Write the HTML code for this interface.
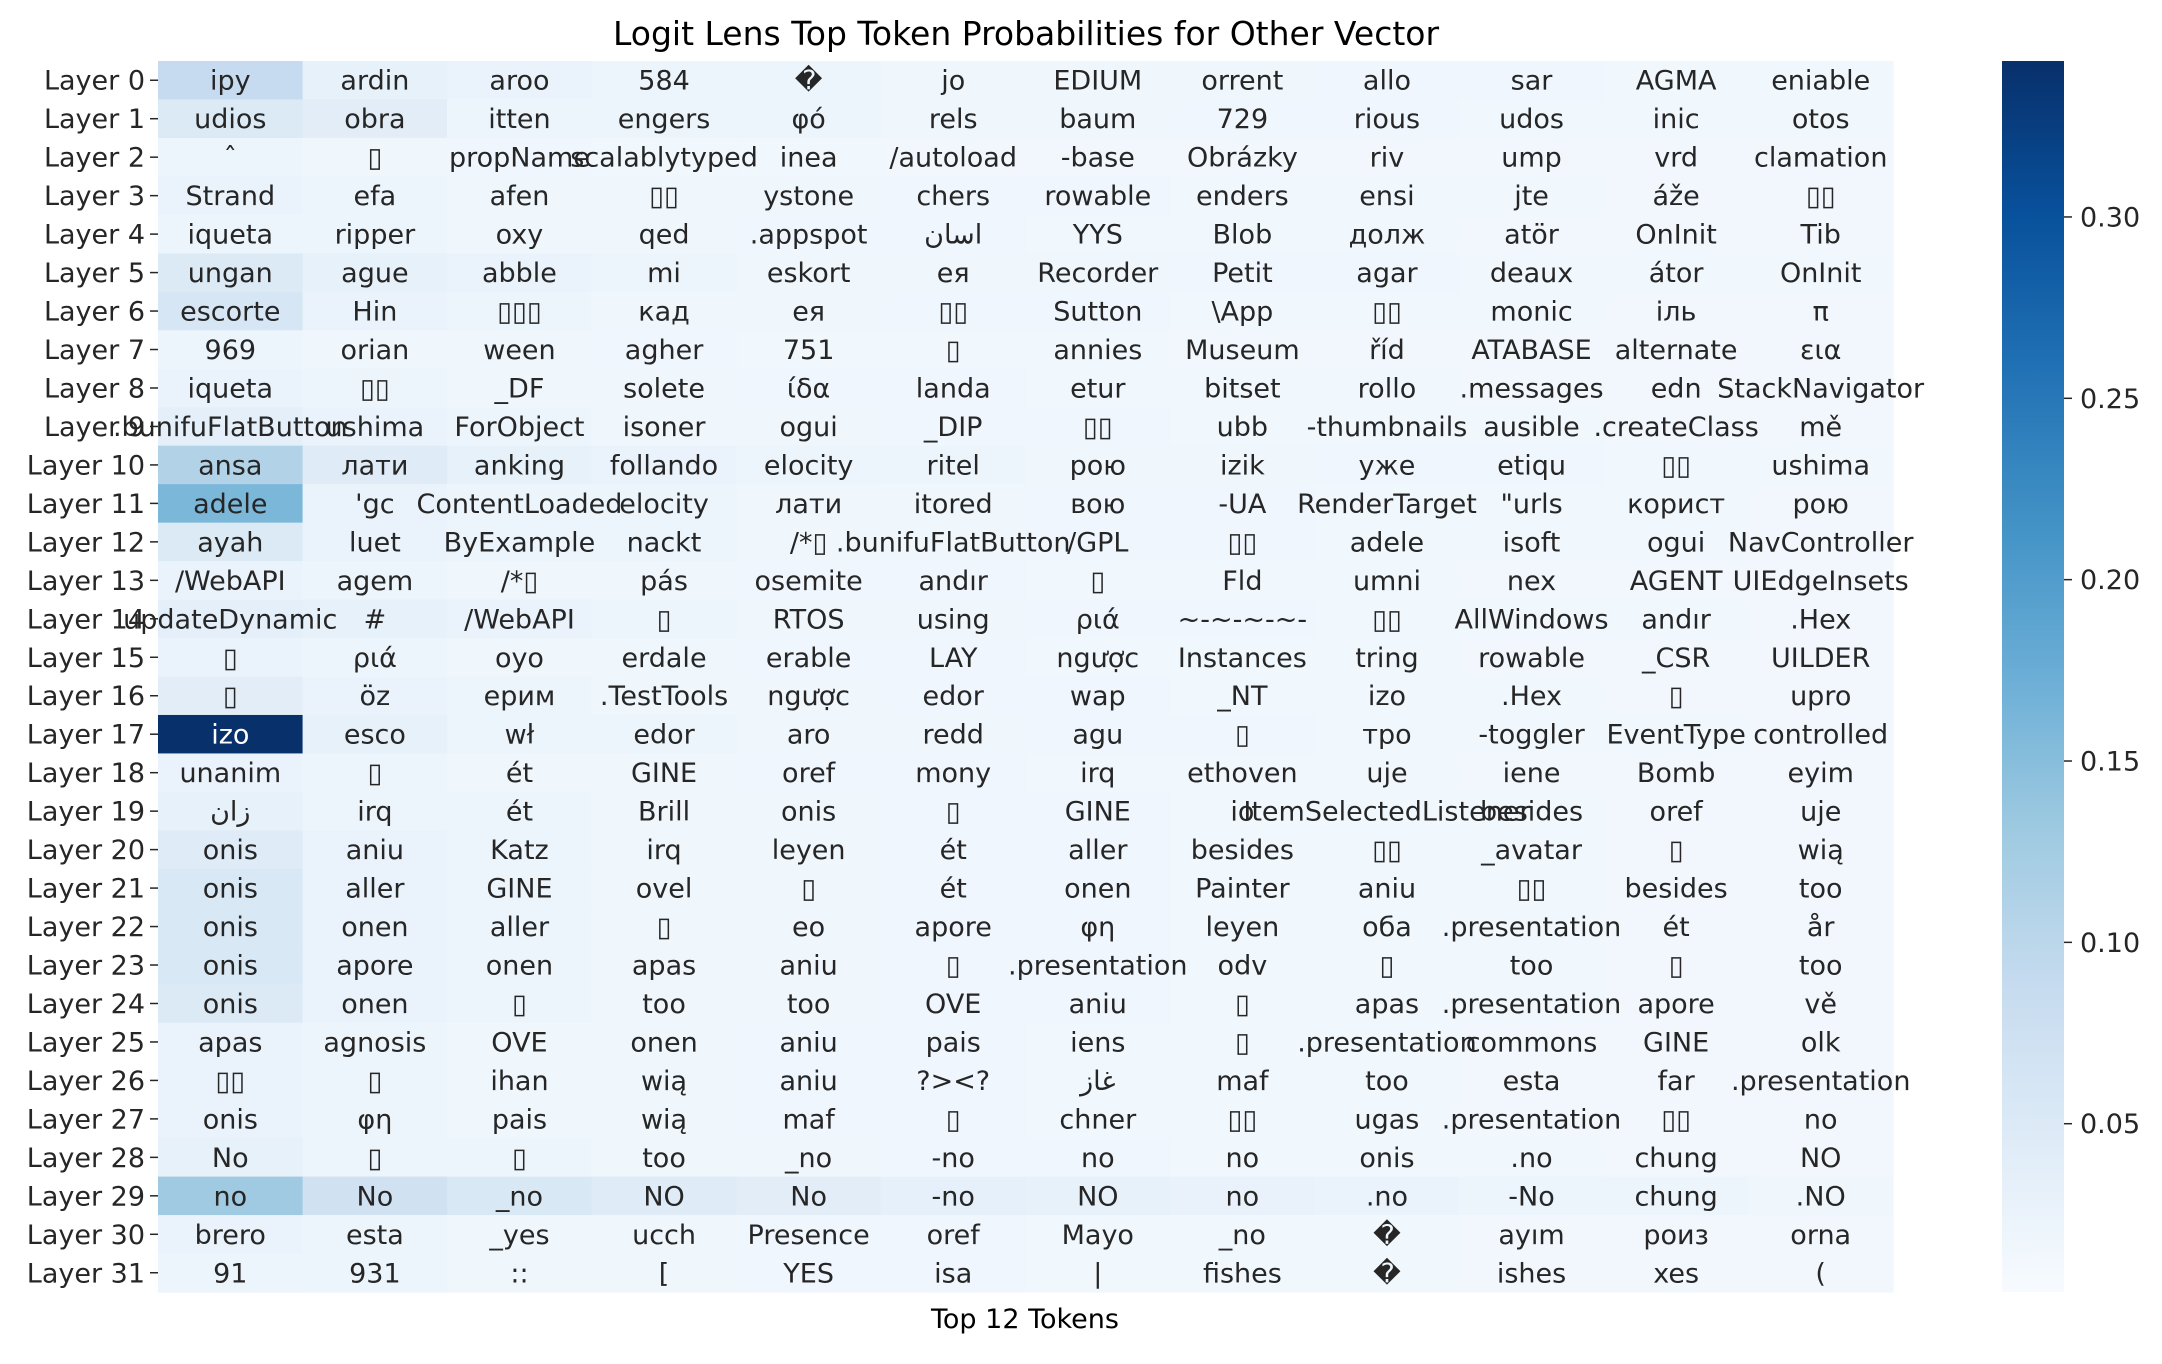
<!DOCTYPE html>
<html><head><meta charset="utf-8">
<style>
html,body{margin:0;padding:0;background:#fff;}
svg{display:block;font-family:"DejaVu Sans","Liberation Sans","Noto Sans CJK SC",sans-serif;}
</style></head>
<body>
<svg id="chart" width="2162" height="1364" viewBox="0 0 2162 1364" xmlns="http://www.w3.org/2000/svg">
<text x="1026" y="45" font-size="33" text-anchor="middle" fill="#000">Logit Lens Top Token Probabilities for Other Vector</text>
<text x="1025" y="1328" font-size="27" text-anchor="middle" fill="#000">Top 12 Tokens</text>
<g id="cells"></g>
<g id="labels"></g>
<g id="ylabels"></g>
<g id="cbar"></g>
</svg>
<script>
const layerLabels = Array.from({length:32},(_,i)=>'Layer '+i);
const tokens = [
["ipy","ardin","aroo","584","\uFFFD","jo","EDIUM","orrent","allo","sar","AGMA","eniable"],
["udios","obra","itten","engers","φό","rels","baum","729","rious","udos","inic","otos"],
["ˆ","▯","propName","scalablytyped","inea","/autoload","-base","Obrázky","riv","ump","vrd","clamation"],
["Strand","efa","afen","▯▯","ystone","chers","rowable","enders","ensi","jte","áže","▯▯"],
["iqueta","ripper","oxy","qed",".appspot","اسان","YYS","Blob","долж","atör","OnInit","Tib"],
["ungan","ague","abble","mi","eskort","ея","Recorder","Petit","agar","deaux","átor","OnInit"],
["escorte","Hin","▯▯▯","кад","ея","▯▯","Sutton","\\App","▯▯","monic","іль","π"],
["969","orian","ween","agher","751","▯","annies","Museum","říd","ATABASE","alternate","εια"],
["iqueta","▯▯","_DF","solete","ίδα","landa","etur","bitset","rollo",".messages","edn","StackNavigator"],
[".bunifuFlatButton","ushima","ForObject","isoner","ogui","_DIP","▯▯","ubb","-thumbnails","ausible",".createClass","mě"],
["ansa","лати","anking","follando","elocity","ritel","рою","izik","уже","etiqu","▯▯","ushima"],
["adele","'gc","ContentLoaded","elocity","лати","itored","вою","-UA","RenderTarget","\"urls","корист","рою"],
["ayah","luet","ByExample","nackt","/*▯",".bunifuFlatButton","/GPL","▯▯","adele","isoft","ogui","NavController"],
["/WebAPI","agem","/*▯","pás","osemite","andır","▯","Fld","umni","nex","AGENT","UIEdgeInsets"],
["updateDynamic","#","/WebAPI","▯","RTOS","using","ριά","~-~-~-~-","▯▯","AllWindows","andır",".Hex"],
["▯","ριά","oyo","erdale","erable","LAY","ngược","Instances","tring","rowable","_CSR","UILDER"],
["▯","öz","ерим",".TestTools","ngược","edor","wap","_NT","izo",".Hex","▯","upro"],
["izo","esco","wł","edor","aro","redd","agu","▯","тро","-toggler","EventType","controlled"],
["unanim","▯","ét","GINE","oref","mony","irq","ethoven","uje","iene","Bomb","eyim"],
["زان","irq","ét","Brill","onis","▯","GINE","io","ItemSelectedListener","besides","oref","uje"],
["onis","aniu","Katz","irq","leyen","ét","aller","besides","▯▯","_avatar","▯","wią"],
["onis","aller","GINE","ovel","▯","ét","onen","Painter","aniu","▯▯","besides","too"],
["onis","onen","aller","▯","eo","apore","φη","leyen","оба",".presentation","ét","år"],
["onis","apore","onen","apas","aniu","▯",".presentation","odv","▯","too","▯","too"],
["onis","onen","▯","too","too","OVE","aniu","▯","apas",".presentation","apore","vě"],
["apas","agnosis","OVE","onen","aniu","pais","iens","▯",".presentation","commons","GINE","olk"],
["▯▯","▯","ihan","wią","aniu","?><?","غاز","maf","too","esta","far",".presentation"],
["onis","φη","pais","wią","maf","▯","chner","▯▯","ugas",".presentation","▯▯","no"],
["No","▯","▯","too","_no","-no","no","no","onis",".no","chung","NO"],
["no","No","_no","NO","No","-no","NO","no",".no","-No","chung",".NO"],
["brero","esta","_yes","ucch","Presence","oref","Mayo","_no","\uFFFD","ayım","роиз","orna"],
["91","931","::","[","YES","isa","|","fishes","\uFFFD","ishes","xes","("]
];
const probs = [
[.088,.03,.025,.022,.02,.018,.018,.017,.016,.016,.015,.015],
[.05,.04,.02,.02,.02,.018,.017,.016,.016,.015,.015,.015],
[.02,.018,.016,.015,.015,.014,.014,.014,.013,.013,.013,.013],
[.025,.02,.018,.017,.017,.016,.016,.015,.015,.015,.014,.014],
[.02,.02,.018,.017,.016,.016,.015,.015,.015,.014,.014,.014],
[.05,.03,.025,.02,.018,.017,.017,.016,.016,.015,.015,.015],
[.06,.025,.02,.018,.017,.016,.016,.015,.015,.015,.014,.014],
[.02,.018,.017,.016,.015,.015,.015,.014,.014,.014,.014,.013],
[.025,.02,.018,.017,.016,.016,.015,.015,.015,.014,.014,.014],
[.035,.025,.02,.018,.017,.016,.016,.015,.015,.015,.014,.014],
[.11,.045,.03,.025,.022,.02,.018,.017,.016,.016,.015,.015],
[.16,.025,.022,.02,.018,.017,.016,.016,.015,.015,.015,.014],
[.05,.025,.022,.02,.018,.017,.016,.016,.015,.015,.015,.014],
[.025,.02,.018,.017,.016,.016,.015,.015,.015,.014,.014,.014],
[.035,.03,.025,.02,.018,.017,.016,.016,.015,.015,.015,.014],
[.025,.02,.018,.017,.016,.016,.015,.015,.015,.014,.014,.014],
[.04,.025,.02,.018,.017,.016,.016,.015,.015,.015,.014,.014],
[.343,.03,.022,.02,.018,.017,.016,.016,.015,.015,.015,.014],
[.025,.02,.018,.017,.016,.016,.015,.015,.015,.014,.014,.014],
[.03,.022,.02,.018,.017,.016,.016,.015,.015,.015,.014,.014],
[.045,.025,.02,.018,.017,.016,.016,.015,.015,.015,.014,.014],
[.055,.025,.02,.018,.017,.016,.016,.015,.015,.015,.014,.014],
[.055,.025,.02,.018,.017,.016,.016,.015,.015,.015,.014,.014],
[.055,.025,.02,.018,.017,.016,.016,.015,.015,.015,.014,.014],
[.05,.025,.02,.018,.017,.016,.016,.015,.015,.015,.014,.014],
[.025,.02,.018,.017,.016,.016,.015,.015,.015,.014,.014,.014],
[.025,.02,.018,.017,.016,.016,.015,.015,.015,.014,.014,.014],
[.025,.02,.018,.017,.016,.016,.015,.015,.015,.014,.014,.014],
[.03,.022,.02,.018,.017,.016,.016,.015,.015,.015,.014,.014],
[.13,.07,.055,.045,.04,.032,.03,.028,.025,.022,.02,.018],
[.025,.02,.018,.017,.016,.016,.015,.015,.015,.014,.014,.014],
[.022,.02,.018,.017,.016,.016,.015,.015,.015,.014,.014,.014]
];
const cbarTicks = [0.05,0.10,0.15,0.20,0.25,0.30];
const cbarTickLabels = ["0.05","0.10","0.15","0.20","0.25","0.30"];

const NS='http://www.w3.org/2000/svg';
const L=158,R=1893,T=61,B=1292;
const vmin=0.0036,vmax=0.343;
const nR=probs.length,nC=probs[0].length;
const cw=(R-L)/nC,rh=(B-T)/nR;
const xPos=c=>L+c*cw, yPos=r=>T+r*rh;
const stops=[[247,251,255],[222,235,247],[198,219,239],[158,202,225],[107,174,214],[66,146,198],[33,113,181],[8,81,156],[8,48,107]];
function frac(v){return Math.max(0,Math.min(1,(v-vmin)/(vmax-vmin)));}
function cmap(t){const p=t*8,i=Math.min(7,Math.floor(p)),f=p-i;const a=stops[i],b=stops[i+1];
 return a.map((x,k)=>Math.round(x+(b[k]-x)*f));}
function mk(tag,attrs,parent){const e=document.createElementNS(NS,tag);for(const k in attrs)e.setAttribute(k,attrs[k]);parent.appendChild(e);return e;}

const cells=document.getElementById('cells');
const labels=document.getElementById('labels');
for(let r=0;r<nR;r++){for(let c=0;c<nC;c++){
 const col=cmap(frac(probs[r][c]));
 const rect=mk('rect',{x:xPos(c),y:yPos(r),width:cw+0.6,height:rh+0.6,fill:`rgb(${col})`},cells);
 
 
 const lum=(0.2126*col[0]+0.7152*col[1]+0.0722*col[2])/255;
 const t=mk('text',{x:xPos(c)+cw/2,y:yPos(r)+rh/2+9.5,'font-size':27,'text-anchor':'middle',fill:lum>0.408?'#262626':'#ffffff'},labels);
 t.textContent=tokens[r][c];
 
 
}}
const yl=document.getElementById('ylabels');
for(let r=0;r<nR;r++){
 const cy=yPos(r)+rh/2;
 const tk=mk('line',{x1:L-8,x2:L,y1:cy,y2:cy,stroke:'#262626','stroke-width':1.5},yl);
 
 
 const t=mk('text',{x:L-13,y:cy+9.5,'font-size':27,'text-anchor':'end',fill:'#262626'},yl);
 t.textContent=layerLabels[r];
 
 
}
const cb=document.getElementById('cbar');
const CX=2002,CW=62;
const defs=mk('defs',{},cb);
const g=mk('linearGradient',{id:'cbg',x1:0,y1:1,x2:0,y2:0},defs);
stops.forEach((s,i)=>mk('stop',{offset:i/8,'stop-color':`rgb(${s})`},g));
const cr=mk('rect',{x:CX,y:T,width:CW,height:B-T,fill:'url(#cbg)'},cb);


const cy=v=>B-(v-vmin)/(vmax-vmin)*(B-T);
cbarTicks.forEach((v,i)=>{
 const y=cy(v);
 const tk=mk('line',{x1:CX+CW,x2:CX+CW+8,y1:y,y2:y,stroke:'#262626','stroke-width':1.5},cb);
 
 
 const t=mk('text',{x:CX+CW+16,y:y+9.5,'font-size':27,fill:'#262626'},cb);
 t.textContent=cbarTickLabels[i];
 
 
});
</script>
</body></html>
